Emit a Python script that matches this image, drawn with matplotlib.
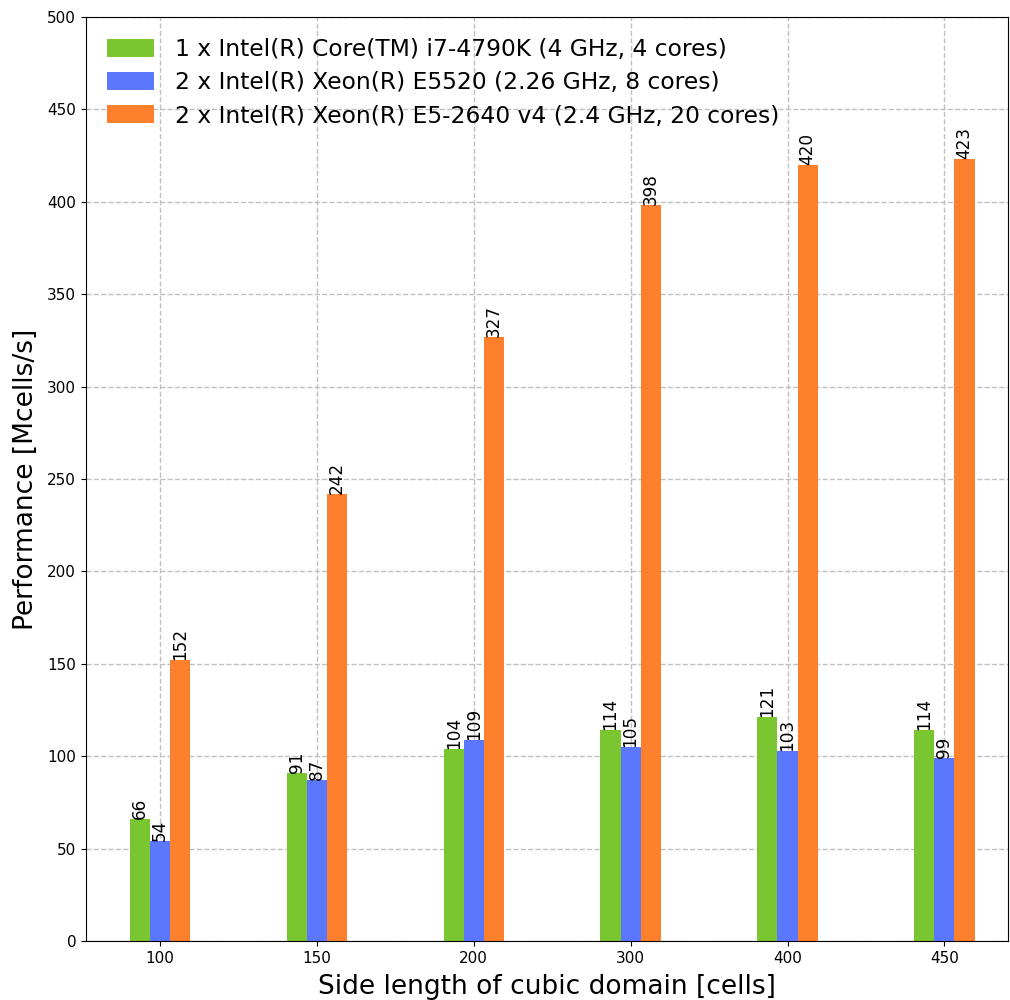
import matplotlib
matplotlib.use("Agg")
import matplotlib.pyplot as plt
import numpy as np

categories = ["100", "150", "200", "300", "400", "450"]
series_names = [
    "1 x Intel(R) Core(TM) i7-4790K (4 GHz, 4 cores)",
    "2 x Intel(R) Xeon(R) E5520 (2.26 GHz, 8 cores)",
    "2 x Intel(R) Xeon(R) E5-2640 v4 (2.4 GHz, 20 cores)",
]
i7_values = [66, 91, 104, 114, 121, 114]
e5520_values = [54, 87, 109, 105, 103, 99]
e52640_values = [152, 242, 327, 398, 420, 423]
colors = ["#7AC630", "#5A77FE", "#FE7F2C"]

fig = plt.figure(figsize=(10.1, 10.0), dpi=100)
ax = fig.add_axes([0.085, 0.059, 0.913, 0.924])

x = np.arange(len(categories))
w = 0.128
all_series = [i7_values, e5520_values, e52640_values]
for k, (vals, name, c) in enumerate(zip(all_series, series_names, colors)):
    pos = x + (k - 1) * w
    bars = ax.bar(pos, vals, width=w, color=c, label=name, zorder=2)
    for b, v in zip(bars, vals):
        ax.text(b.get_x() + b.get_width() / 2, v, f"{v}", rotation=90,
                ha="center", va="bottom", fontsize=12.2, zorder=3)

ax.set_xticks(x)
ax.set_xticklabels(categories, fontsize=11)
ax.set_xlim(-0.472, 5.405)
ax.set_ylim(0, 500)
ax.set_yticks(np.arange(0, 501, 50))
ax.tick_params(axis="y", labelsize=11)
ax.set_xlabel("Side length of cubic domain [cells]", fontsize=19, labelpad=6)
ax.set_ylabel("Performance [Mcells/s]", fontsize=19, labelpad=6)
ax.grid(True, linestyle="--", color="#c0c0c0", linewidth=1, zorder=0)
ax.set_axisbelow(True)
ax.legend(loc="upper left", fontsize=16.8, frameon=False,
          handlelength=2.0, handleheight=0.8, borderaxespad=0.5,
          labelspacing=0.44, handletextpad=0.9)

fig.savefig("out.png", dpi=100)
